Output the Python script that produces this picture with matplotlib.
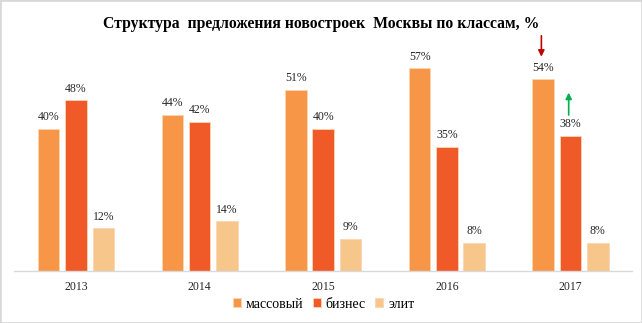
import matplotlib
matplotlib.use("Agg")
import matplotlib.pyplot as plt
import numpy as np
from matplotlib.patches import Rectangle

plt.rcParams['font.family'] = ['Liberation Serif', 'DejaVu Serif']

years = ['2013', '2014', '2015', '2016', '2017']
series_names = ['массовый', 'бизнес', 'элит']
mass = [40, 44, 51, 57, 54]
business = [48, 42, 40, 35, 38]
elite = [12, 14, 9, 8, 8]
title = 'Структура  предложения новостроек  Москвы по классам, %'

colors = ['#F79646', '#F05A28', '#F7C68A']

fig = plt.figure(figsize=(6.42, 3.23), dpi=100)
ax = fig.add_axes([0.022, 0.161, 0.963, 0.715])

x = np.arange(len(years))
width = 0.174
step = 0.221
for i, (vals, name, c) in enumerate(zip([mass, business, elite], series_names, colors)):
    pos = x + (i - 1) * step
    ax.bar(pos, vals, width, color=c, label=name,
           edgecolor='#FBD5B5', linewidth=0.6)
    for xp, v in zip(pos, vals):
        ax.annotate(f'{v}%', (xp, v), xytext=(0, 4), textcoords='offset points',
                    ha='center', va='bottom', fontsize=8.5, color='#262626')

ax.set_xlim(-0.5, len(years) - 0.5)
ax.set_ylim(0, 65)
ax.set_xticks(x)
ax.set_xticklabels(years, fontsize=8.5, color='#262626')
ax.tick_params(axis='x', length=0, pad=7)
ax.set_yticks([])
for s in ['top', 'left', 'right']:
    ax.spines[s].set_visible(False)
ax.spines['bottom'].set_color('#D9D9D9')
ax.spines['bottom'].set_linewidth(1.0)

# change markers for the last year
ax.annotate('', xy=(4 - step - 0.015, 60.3), xytext=(4 - step - 0.015, 66.2),
            arrowprops=dict(arrowstyle='-|>', color='#C00000', lw=1.2,
                            mutation_scale=9, shrinkA=0, shrinkB=0),
            annotation_clip=False)
ax.annotate('', xy=(4 - 0.015, 50.2), xytext=(4 - 0.015, 43.9),
            arrowprops=dict(arrowstyle='-|>', color='#00B050', lw=1.2,
                            mutation_scale=9, shrinkA=0, shrinkB=0),
            annotation_clip=False)

fig.text(0.5, 0.925, title, ha='center', va='center', fontsize=11.3,
         fontweight='bold', color='black')

fig.legend(loc='center', bbox_to_anchor=(0.504, 0.058), ncol=3, frameon=False,
           fontsize=10, handlelength=0.6, handleheight=0.6, handletextpad=0.35,
           columnspacing=0.65)

fig.patches.append(Rectangle((0, 0), 1, 1, transform=fig.transFigure,
                             fill=False, edgecolor='#D9D9D9', linewidth=2))

fig.savefig('out.png', dpi=100)
